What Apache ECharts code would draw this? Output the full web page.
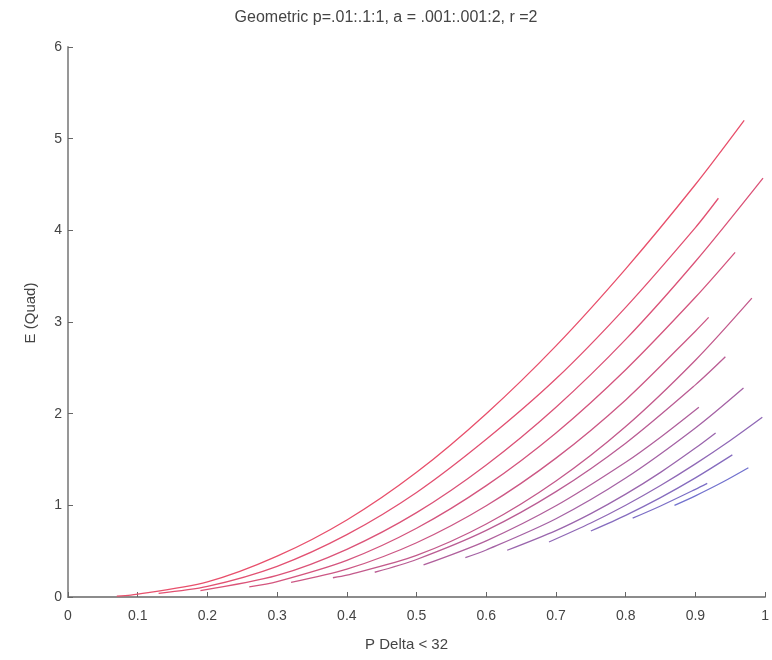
<!DOCTYPE html>
<html>
<head>
<meta charset="utf-8">
<script src="https://cdn.jsdelivr.net/npm/echarts@6/dist/echarts.min.js"></script>
<style>
html,body{margin:0;padding:0;background:#fff;}
#chart{width:772px;height:660px;}
</style>
</head>
<body>
<div id="chart"></div>
<script>
// Tick labels
var xTicks = [0, 0.1, 0.2, 0.3, 0.4, 0.5, 0.6, 0.7, 0.8, 0.9, 1];
var yTicks = [0, 1, 2, 3, 4, 5, 6];

// Curves (ordered top to bottom), x = P Delta < 32, y = E (Quad)
var c1x = [0.07, 0.09, 0.2, 0.3, 0.4, 0.5, 0.6, 0.7, 0.8, 0.9, 0.97];
var c1y = [0.01, 0.02, 0.165, 0.445, 0.840, 1.360, 2.000, 2.740, 3.580, 4.500, 5.20];
var c2x = [0.13, 0.2, 0.3, 0.4, 0.5, 0.6, 0.7, 0.8, 0.9, 0.933];
var c2y = [0.04, 0.115, 0.335, 0.680, 1.140, 1.720, 2.380, 3.160, 4.030, 4.35];
var c3x = [0.19, 0.3, 0.4, 0.5, 0.6, 0.7, 0.8, 0.9, 0.997];
var c3y = [0.07, 0.235, 0.520, 0.920, 1.440, 2.070, 2.810, 3.660, 4.57];
var c4x = [0.26, 0.3, 0.4, 0.5, 0.6, 0.7, 0.8, 0.9, 0.957];
var c4y = [0.11, 0.168, 0.400, 0.750, 1.215, 1.790, 2.480, 3.270, 3.76];
var c5x = [0.32, 0.4, 0.5, 0.6, 0.7, 0.8, 0.9, 0.919];
var c5y = [0.16, 0.303, 0.592, 0.995, 1.515, 2.150, 2.900, 3.05];
var c6x = [0.38, 0.4, 0.5, 0.6, 0.7, 0.8, 0.9, 0.981];
var c6y = [0.21, 0.238, 0.454, 0.796, 1.265, 1.860, 2.583, 3.26];
var c7x = [0.44, 0.5, 0.6, 0.7, 0.8, 0.9, 0.943];
var c7y = [0.27, 0.409, 0.726, 1.149, 1.678, 2.314, 2.62];
var c8x = [0.51, 0.6, 0.7, 0.8, 0.85, 0.905];
var c8y = [0.35, 0.613, 0.995, 1.470, 1.743, 2.07];
var c9x = [0.57, 0.6, 0.7, 0.8, 0.9, 0.969];
var c9y = [0.43, 0.513, 0.854, 1.298, 1.844, 2.28];
var c10x = [0.63, 0.7, 0.75, 0.8, 0.85, 0.9, 0.929];
var c10y = [0.51, 0.725, 0.910, 1.122, 1.360, 1.625, 1.79];
var c11x = [0.69, 0.75, 0.8, 0.85, 0.9, 0.95, 0.996];
var c11y = [0.60, 0.807, 1.001, 1.216, 1.452, 1.707, 1.96];
var c12x = [0.75, 0.8, 0.85, 0.9, 0.953];
var c12y = [0.72, 0.891, 1.084, 1.299, 1.55];
var c13x = [0.81, 0.85, 0.9, 0.917];
var c13y = [0.86, 0.993, 1.175, 1.24];
var c14x = [0.87, 0.9, 0.94, 0.976];
var c14y = [1.00, 1.104, 1.257, 1.41];

var curvesX = [c1x, c2x, c3x, c4x, c5x, c6x, c7x, c8x, c9x, c10x, c11x, c12x, c13x, c14x];
var curvesY = [c1y, c2y, c3y, c4y, c5y, c6y, c7y, c8y, c9y, c10y, c11y, c12y, c13y, c14y];

var colors = ['#e8506c', '#e25172', '#db5378', '#d4557e', '#cc5885', '#c35a8c', '#ba5d94',
              '#b0609c', '#a563a5', '#9a66ad', '#9069b6', '#866cbe', '#7c6fc6', '#7272ce'];

var series = [];
for (var i = 0; i < curvesX.length; i++) {
  var d = [];
  for (var j = 0; j < curvesX[i].length; j++) d.push([curvesX[i][j], curvesY[i][j]]);
  series.push({
    type: 'line', data: d, showSymbol: false, smooth: 0.3,
    lineStyle: {color: colors[i], width: 1.3}, z: 2 + i
  });
}

var axisCol = '#8c8c8c';
var fontFam = 'Liberation Sans, Arial, sans-serif';
var labelStyle = {color: '#444', fontSize: 14, fontFamily: fontFam};
var nameStyle = {color: '#444', fontSize: 15, fontFamily: fontFam};

var chart = echarts.init(document.getElementById('chart'), null, {renderer: 'canvas'});
chart.setOption({
  animation: false,
  backgroundColor: '#fff',
  title: {
    text: 'Geometric p=.01:.1:1, a = .001:.001:2, r =2',
    left: 'center', top: 5,
    textStyle: {color: '#444', fontSize: 16, fontWeight: 'normal', fontFamily: fontFam}
  },
  grid: {left: 68, right: 2, top: 47, bottom: 63, containLabel: false},
  xAxis: {
    type: 'value', min: 0, max: 1, interval: 0.1,
    name: 'P Delta < 32', nameLocation: 'middle', nameGap: 40,
    nameTextStyle: Object.assign({padding: [0, 20, 0, 0]}, nameStyle),
    axisLine: {show: true, onZero: false, lineStyle: {color: axisCol, width: 1.8}},
    axisTick: {show: true, inside: true, length: 5, lineStyle: {color: '#666'}},
    axisLabel: Object.assign({margin: 12, formatter: function (v) { return String(Math.round(v * 10) / 10); }}, labelStyle),
    splitLine: {show: false}
  },
  yAxis: {
    type: 'value', min: 0, max: 6, interval: 1,
    name: 'E (Quad)', nameLocation: 'middle', nameGap: 30, nameRotate: 90,
    nameTextStyle: Object.assign({padding: [0, 0, 0, 18]}, nameStyle),
    axisLine: {show: true, onZero: false, lineStyle: {color: axisCol, width: 1.8}},
    axisTick: {show: true, inside: true, length: 5, lineStyle: {color: '#666'}},
    axisLabel: Object.assign({margin: 6}, labelStyle),
    splitLine: {show: false}
  },
  series: series
});
</script>
</body>
</html>
